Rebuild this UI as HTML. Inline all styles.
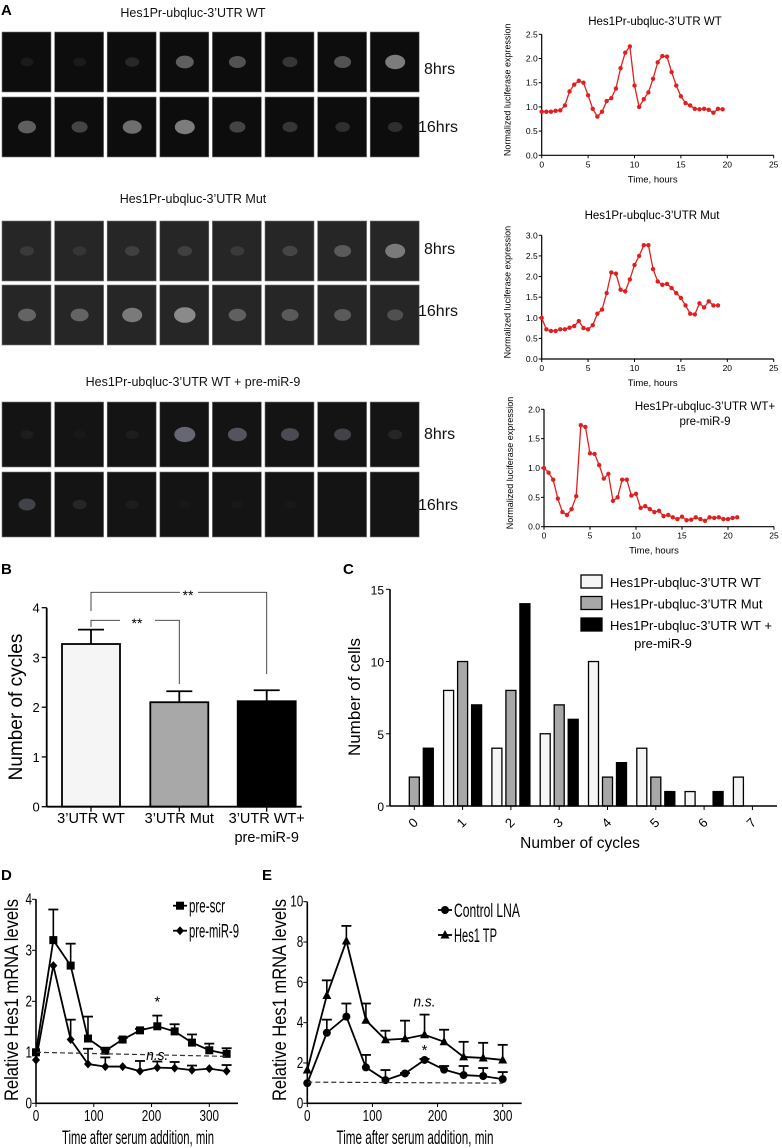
<!DOCTYPE html>
<html><head><meta charset="utf-8"><style>
html,body{margin:0;padding:0;background:#fff;}
svg{display:block;font-family:"Liberation Sans",sans-serif;}
</style></head><body>
<svg id="fig" width="782" height="1148" viewBox="0 0 782 1148" xmlns="http://www.w3.org/2000/svg">
<g id="imgs"></g>
<g id="lum"></g>
<g id="pb"></g>
<g id="pc"></g>
<g id="pd"></g>
<g id="pe"></g>
</svg>
<script>
// ---- data ----
const lumTimesWT = [0,0.5,1,1.5,2,2.5,3,3.5,4,4.5,5,5.5,6,6.5,7,7.5,8,8.5,9,9.5,10,10.5,11,11.5,12,12.5,13,13.5,14,14.5,15,15.5,16,16.5,17,17.5,18,18.5,19,19.5];
const lumWT = [0.9,0.9,0.9,0.92,0.93,1.03,1.32,1.46,1.54,1.5,1.24,0.96,0.8,0.9,1.12,1.18,1.38,1.8,2.12,2.25,1.44,1.0,1.16,1.3,1.58,1.92,2.05,2.04,1.72,1.44,1.22,1.08,1.03,0.96,0.95,0.96,0.94,0.88,0.96,0.95];
const lumTimesMut = [0,0.5,1,1.5,2,2.5,3,3.5,4,4.5,5,5.5,6,6.5,7,7.5,8,8.5,9,9.5,10,10.5,11,11.5,12,12.5,13,13.5,14,14.5,15,15.5,16,16.5,17,17.5,18,18.5,19];
const lumMut = [1.0,0.72,0.68,0.68,0.72,0.72,0.76,0.8,0.92,0.75,0.72,0.82,1.1,1.2,1.6,2.1,2.07,1.68,1.64,1.93,2.28,2.5,2.76,2.76,2.18,1.88,1.8,1.82,1.72,1.6,1.48,1.3,1.1,1.08,1.35,1.25,1.4,1.3,1.3];
const lumTimesMiR = [0,0.5,1,1.5,2,2.5,3,3.5,4,4.5,5,5.5,6,6.5,7,7.5,8,8.5,9,9.5,10,10.5,11,11.5,12,12.5,13,13.5,14,14.5,15,15.5,16,16.5,17,17.5,18,18.5,19,19.5,20,20.5,21];
const lumMiR = [1.0,0.92,0.8,0.48,0.25,0.2,0.3,0.52,1.73,1.7,1.25,1.24,1.05,0.82,0.9,0.44,0.5,0.8,0.8,0.53,0.56,0.32,0.35,0.3,0.25,0.27,0.18,0.2,0.16,0.13,0.17,0.11,0.12,0.16,0.13,0.1,0.16,0.15,0.16,0.13,0.13,0.15,0.16];

const bCategories = ["3’UTR WT","3’UTR Mut","3’UTR WT+"];
const bMeans = [3.27,2.1,2.12];
const bErr = [0.29,0.22,0.22];
const bTicks = [0,1,2,3,4];

const cCategories = ["0","1","2","3","4","5","6","7"];
const cWT = [0,8,4,5,10,4,1,2];
const cMut = [2,10,8,7,2,2,0,0];
const cMiR = [4,7,14,6,3,1,1,0];
const cTicks = [0,5,10,15];

const dTimes = [0,30,60,90,120,150,180,210,240,270,300,330];
const dScr = [1.0,3.2,2.7,1.27,1.03,1.25,1.43,1.51,1.41,1.19,1.04,0.97];
const dScrErr = [0,0.6,0.43,0.43,0.03,0.03,0.03,0.21,0.14,0.16,0.13,0.11];
const dMiR = [0.85,2.7,1.25,0.77,0.72,0.72,0.63,0.7,0.69,0.65,0.68,0.63];
const dMiRErr = [0,0,0.39,0.3,0.18,0,0.2,0.12,0.12,0.09,0,0.12];
const dTicksX = [0,100,200,300];
const dTicksY = [0,1,2,3,4];

const eTimes = [0,30,60,90,120,150,180,210,240,270,300];
const eCtrl = [1.0,3.5,4.3,1.78,1.15,1.48,2.15,1.67,1.4,1.35,1.2];
const eCtrlErr = [0,0.65,0.65,0.62,0.5,0.02,0.05,0.18,0.45,0.4,0.35];
const eTP = [1.65,5.35,8.05,4.12,3.15,3.2,3.4,3.05,2.3,2.25,2.15];
const eTPErr = [0,0.75,0.75,0.83,0.45,0.9,1.0,0.6,0.75,0.75,0.75];
const eTicksX = [0,100,200,300];
const eTicksY = [0,2,4,6,8,10];

const NS="http://www.w3.org/2000/svg";
function mk(parent,tag,attrs,text){const e=document.createElementNS(NS,tag);for(const k in attrs)e.setAttribute(k,attrs[k]);if(text!==undefined)e.textContent=text;parent.appendChild(e);return e;}
function lin(d0,d1,r0,r1){return v=>r0+(v-d0)*(r1-r0)/(d1-d0);}

// ---- microscopy tiles ----
const imgs=document.getElementById('imgs');
const sections=[
 {title:"Hes1Pr-ubqluc-3’UTR WT",ty:17,rows:[[32,92],[97,157]],lab:[74,132],bg:"#0d0d0d",glow:"#bbb"},
 {title:"Hes1Pr-ubqluc-3’UTR Mut",ty:203,rows:[[221,281],[285,345]],lab:[254,316],bg:"#262626",glow:"#aaa"},
 {title:"Hes1Pr-ubqluc-3’UTR WT + pre-miR-9",ty:386,rows:[[402,467],[472,537]],lab:[439,510],bg:"#141414",glow:"#889"}];
const glowWT=[[0.1,0.1,0.2,0.6,0.5,0.3,0.5,0.8],[0.6,0.4,0.7,0.8,0.4,0.3,0.25,0.25]];
const glowMut=[[0.2,0.15,0.25,0.25,0.2,0.3,0.5,0.8],[0.6,0.6,0.8,0.95,0.55,0.5,0.5,0.4]];
const glowMiR=[[0.1,0.05,0.1,0.9,0.7,0.6,0.5,0.2],[0.5,0.2,0.1,0.05,0.05,0.05,0,0]];
const glows=[glowWT,glowMut,glowMiR];
sections.forEach((s,si)=>{
  const t=mk(imgs,'text',{x:193,y:s.ty,'text-anchor':'middle','font-size':12.5,fill:'#111'},s.title);
  
  
  s.rows.forEach((r,ri)=>{
    for(let i=0;i<8;i++){
      const x=2+i*52.6;
      const tile=mk(imgs,'rect',{x:x,y:r[0],width:49,height:r[1]-r[0],fill:s.bg,stroke:'#777','stroke-width':0.6});
      
      
      const g=glows[si][ri][i];
      if(g>0){mk(imgs,'ellipse',{cx:x+25,cy:(r[0]+r[1])/2,rx:6+g*5,ry:4+g*4,fill:s.glow,opacity:g*0.8});}
    }
    const lt=mk(imgs,'text',{x:ri?418:424,y:s.lab[ri],'font-size':16,fill:'#111'},ri?"16hrs":"8hrs");
    
    
  });
});
const la=mk(imgs,'text',{x:1,y:15,'font-size':15,'font-weight':'bold'},"A");



// ---- luciferase traces ----
const lum=document.getElementById('lum');
function lumChart(cfg){
  const g=mk(lum,'g',{});
  
  
  const X=lin(0,25,cfg.x0,cfg.x1),Y=lin(0,cfg.ymax,cfg.y0,cfg.yt);
  mk(g,'line',{x1:cfg.x0,y1:cfg.yt,x2:cfg.x0,y2:cfg.y0,stroke:'#000','stroke-width':1.2});
  mk(g,'line',{x1:cfg.x0,y1:cfg.y0,x2:cfg.x1,y2:cfg.y0,stroke:'#000','stroke-width':1.2});
  cfg.yticks.forEach(v=>{mk(g,'line',{x1:cfg.x0-3,x2:cfg.x0,y1:Y(v),y2:Y(v),stroke:'#000'});
    mk(g,'text',{x:cfg.x0-4,y:Y(v)+3,'text-anchor':'end','font-size':8.5},v.toFixed(1));});
  [0,5,10,15,20,25].forEach(v=>{mk(g,'line',{x1:X(v),x2:X(v),y1:cfg.y0,y2:cfg.y0+3,stroke:'#000'});
    mk(g,'text',{x:X(v),y:cfg.y0+12,'text-anchor':'middle','font-size':8.5},v);});
  const xl=mk(g,'text',{x:(cfg.x0+cfg.x1)/2-5,y:cfg.y0+27,'text-anchor':'middle','font-size':9.5},"Time, hours");
  
  
  const yl=mk(g,'text',{x:0,y:0,'text-anchor':'middle','font-size':9,transform:`translate(${cfg.x0-31},${(cfg.y0+cfg.yt)/2-5}) rotate(-90)`},"Normalized luciferase expression");
  
  
  cfg.title.forEach((t,i)=>{const tt=mk(g,'text',{x:cfg.tx,y:cfg.ty+i*15,'text-anchor':'middle','font-size':11.5},t);
    
    });
  const pts=cfg.t.map((t,i)=>X(t)+','+Y(cfg.v[i])).join(' ');
  const pl=mk(g,'polyline',{points:pts,fill:'none',stroke:'#e02020','stroke-width':1.3});
  
  
  cfg.t.forEach((t,i)=>{const c=mk(g,'circle',{cx:X(t),cy:Y(cfg.v[i]),r:2.2,fill:'#e02020'});
    
    });
}
lumChart({x0:541.7,x1:773.7,y0:155.3,yt:34.3,ymax:2.5,yticks:[0,0.5,1,1.5,2,2.5],t:lumTimesWT,v:lumWT,title:["Hes1Pr-ubqluc-3’UTR WT"],tx:655,ty:25});
lumChart({x0:541.7,x1:773.7,y0:359,yt:235.3,ymax:3,yticks:[0,0.5,1,1.5,2,2.5,3],t:lumTimesMut,v:lumMut,title:["Hes1Pr-ubqluc-3’UTR Mut"],tx:652,ty:219});
lumChart({x0:544,x1:774,y0:526.7,yt:409.3,ymax:2,yticks:[0,0.5,1,1.5,2],t:lumTimesMiR,v:lumMiR,title:["Hes1Pr-ubqluc-3’UTR WT+","pre-miR-9"],tx:705,ty:410});

// ---- panel B ----
const pb=document.getElementById('pb');
(function(){
  const x0=46.7,x1=301.7,Y=lin(0,4,806.7,607.7);
  const centers=[91,179.3,266.7],fills=['#f5f5f5','#a8a8a8','#000'];
  bMeans.forEach((m,i)=>{
    const yt=Y(m+bErr[i]);
    mk(pb,'line',{x1:centers[i],x2:centers[i],y1:Y(m),y2:yt,stroke:'#000','stroke-width':1.8});
    mk(pb,'line',{x1:centers[i]-13,x2:centers[i]+13,y1:yt,y2:yt,stroke:'#000','stroke-width':1.8});
    const r=mk(pb,'rect',{x:centers[i]-29,y:Y(m),width:58,height:Y(0)-Y(m),fill:fills[i],stroke:'#000','stroke-width':1.8});
    
    
    mk(pb,'line',{x1:centers[i],x2:centers[i],y1:Y(0),y2:Y(0)+5,stroke:'#000','stroke-width':1.3});
    const l=mk(pb,'text',{x:centers[i],y:823,'text-anchor':'middle','font-size':14.5},bCategories[i]);
    
    
  });
  mk(pb,'text',{x:266.7,y:842,'text-anchor':'middle','font-size':14.5},"pre-miR-9");
  mk(pb,'line',{x1:x0,x2:x0,y1:Y(4),y2:Y(0),stroke:'#000','stroke-width':1.8});
  mk(pb,'line',{x1:x0,x2:x1,y1:Y(0),y2:Y(0),stroke:'#000','stroke-width':1.8});
  bTicks.forEach(v=>{mk(pb,'line',{x1:x0-5,x2:x0,y1:Y(v),y2:Y(v),stroke:'#000','stroke-width':1.3});
    mk(pb,'text',{x:x0-7,y:Y(v)+5,'text-anchor':'end','font-size':13},v);});
  const yt=mk(pb,'text',{x:0,y:0,'text-anchor':'middle','font-size':19,transform:'translate(22,707) rotate(-90)'},"Number of cycles");
  
  
  mk(pb,'polyline',{points:"91,611 91,592.3 180,592.3",fill:'none',stroke:'#333','stroke-width':0.9});
  mk(pb,'polyline',{points:"198,592.3 266.7,592.3 266.7,674",fill:'none',stroke:'#333','stroke-width':0.9});
  mk(pb,'polyline',{points:"91,627 91,620.3 120,620.3",fill:'none',stroke:'#333','stroke-width':0.9});
  mk(pb,'polyline',{points:"155,620.3 179.3,620.3 179.3,684",fill:'none',stroke:'#333','stroke-width':0.9});
  mk(pb,'text',{x:188,y:600,'text-anchor':'middle','font-size':14},"**");
  mk(pb,'text',{x:137,y:628,'text-anchor':'middle','font-size':14},"**");
  mk(pb,'text',{x:1,y:574,'font-size':15,'font-weight':'bold'},"B");
})();

// ---- panel C ----
const pc=document.getElementById('pc');
(function(){
  const x0=390,x1=777,X=i=>414.3+i*48.3,Y=lin(0,15,806,589.3);
  const series=[[cWT,'#f5f5f5',-14],[cMut,'#a8a8a8',0],[cMiR,'#000',14]];
  series.forEach((s,si)=>{s[0].forEach((v,i)=>{if(v<=0)return;
    const r=mk(pc,'rect',{x:X(i)+s[2]-5,y:Y(v),width:10,height:Y(0)-Y(v),fill:s[1],stroke:'#000','stroke-width':1.3});
    
    });});
  mk(pc,'line',{x1:x0,x2:x0,y1:Y(15),y2:Y(0),stroke:'#000','stroke-width':1.6});
  mk(pc,'line',{x1:x0,x2:x1,y1:Y(0),y2:Y(0),stroke:'#000','stroke-width':1.6});
  cTicks.forEach(v=>{mk(pc,'line',{x1:x0-4,x2:x0,y1:Y(v),y2:Y(v),stroke:'#000'});
    mk(pc,'text',{x:x0-6,y:Y(v)+5,'text-anchor':'end','font-size':12},v);});
  cCategories.forEach((c,i)=>{mk(pc,'line',{x1:X(i),x2:X(i),y1:Y(0),y2:Y(0)+4,stroke:'#000'});
    const t=mk(pc,'text',{x:0,y:0,'text-anchor':'middle','font-size':13,transform:`translate(${X(i)+2},${826}) rotate(-45)`},c);
    
    });
  const xt=mk(pc,'text',{x:580,y:848,'text-anchor':'middle','font-size':15.5},"Number of cycles");
  
  
  const yt=mk(pc,'text',{x:0,y:0,'text-anchor':'middle','font-size':17,transform:'translate(360,697) rotate(-90)'},"Number of cells");
  
  
  const leg=[["Hes1Pr-ubqluc-3’UTR WT",'#f5f5f5'],["Hes1Pr-ubqluc-3’UTR Mut",'#a8a8a8'],["Hes1Pr-ubqluc-3’UTR WT +",'#000']];
  leg.forEach((l,i)=>{const y=575+i*21.5;
    const r=mk(pc,'rect',{x:581,y:y,width:21,height:13,fill:l[1],stroke:'#000','stroke-width':1.3});
    
    
    const t=mk(pc,'text',{x:610,y:y+12,'font-size':13},l[0]);
    
    });
  mk(pc,'text',{x:663,y:648,'text-anchor':'middle','font-size':13},"pre-miR-9");
  mk(pc,'text',{x:343,y:574,'font-size':15,'font-weight':'bold'},"C");
})();

// ---- panels D & E ----
function marker(g,type,x,y){
  let m;
  if(type==='sq')m=mk(g,'rect',{x:x-4,y:y-4,width:8,height:8,fill:'#000'});
  else if(type==='dia')m=mk(g,'polygon',{points:`${x},${y-4.5} ${x+4},${y} ${x},${y+4.5} ${x-4},${y}`,fill:'#000'});
  else if(type==='circ')m=mk(g,'circle',{cx:x,cy:y,r:4,fill:'#000'});
  else m=mk(g,'polygon',{points:`${x},${y-5} ${x+4.5},${y+3.5} ${x-4.5},${y+3.5}`,fill:'#000'});
  
  
}
function narrow(el,len){el.setAttribute('textLength',len);el.setAttribute('lengthAdjust','spacingAndGlyphs');return el;}
function lineChart(g,cfg){
  const X=lin(0,300,cfg.x0,cfg.x300),Y=lin(0,cfg.ymax,1103.3,cfg.yt);
  cfg.series.forEach(s=>{
    s.v.forEach((v,i)=>{if(s.e[i]>0){const yt=Y(v+s.e[i]);
      mk(g,'line',{x1:X(cfg.t[i]),x2:X(cfg.t[i]),y1:Y(v),y2:yt,stroke:'#000','stroke-width':1.6});
      mk(g,'line',{x1:X(cfg.t[i])-5,x2:X(cfg.t[i])+5,y1:yt,y2:yt,stroke:'#000','stroke-width':1.8});}});
    const pl=mk(g,'polyline',{points:cfg.t.map((t,i)=>X(t)+','+Y(s.v[i])).join(' '),fill:'none',stroke:'#000','stroke-width':1.8});
    
    
    cfg.t.forEach((t,i)=>marker(g,s.m,X(t),Y(s.v[i])));
  });
  mk(g,'line',{x1:X(0),x2:X(cfg.t[cfg.t.length-1]),y1:Y(cfg.dash[0]),y2:Y(cfg.dash[1]),stroke:'#333','stroke-width':1.2,'stroke-dasharray':'5,3'});
  mk(g,'line',{x1:cfg.x0,x2:cfg.x0,y1:cfg.yt,y2:1103.3,stroke:'#000','stroke-width':1.6});
  mk(g,'line',{x1:cfg.x0,x2:cfg.xend,y1:1103.3,y2:1103.3,stroke:'#000','stroke-width':1.6});
  cfg.ty.forEach(v=>{mk(g,'line',{x1:cfg.x0-4,x2:cfg.x0,y1:Y(v),y2:Y(v),stroke:'#000'});
    const t=mk(g,'text',{x:cfg.x0-4,y:Y(v)+5,'text-anchor':'end','font-size':15.5},v);
    narrow(t,String(v).length*6.5);});
  cfg.tx.forEach(v=>{mk(g,'line',{x1:X(v),x2:X(v),y1:1103.3,y2:1107,stroke:'#000'});
    const t=mk(g,'text',{x:X(v),y:1121,'text-anchor':'middle','font-size':15.5},v);
    narrow(t,String(v).length*6.5);});
  const xt=mk(g,'text',{x:cfg.xlx,y:1144,'text-anchor':'middle','font-size':19},"Time after serum addition, min");
  narrow(xt,cfg.xlen);
  
  
  const yt=mk(g,'text',{x:0,y:0,'text-anchor':'middle','font-size':19,transform:`translate(${cfg.ylx},1000) rotate(-90)`},"Relative Hes1 mRNA levels");
  narrow(yt,202);
  
  
  cfg.annot.forEach(a=>{const t=mk(g,'text',{x:X(a[0]),y:Y(a[1]),'text-anchor':'middle','font-size':15,'font-style':a[2]==='*'?'normal':'italic'},a[2]);
    if(a[2]!=='*')narrow(t,22);});
  cfg.legend.forEach((l,i)=>{const y=cfg.ly+i*25;
    mk(g,'line',{x1:cfg.lx-7,x2:cfg.lx+7,y1:y,y2:y,stroke:'#000','stroke-width':1.8});
    marker(g,l[0],cfg.lx,y);
    const t=mk(g,'text',{x:cfg.lx+9,y:y+7,'font-size':19},l[1]);
    narrow(t,l[2]);
    
    });
  mk(g,'text',{x:cfg.pl[0],y:880,'font-size':15,'font-weight':'bold'},cfg.pl[1]);
}
lineChart(document.getElementById('pd'),{x0:36,x300:209.3,xend:238,yt:899.3,ymax:4,t:dTimes,
  series:[{v:dScr,e:dScrErr,m:'sq'},{v:dMiR,e:dMiRErr,m:'dia'}],dash:[1.0,0.92],ty:dTicksY,tx:dTicksX,
  xlx:138,xlen:152,ylx:18,annot:[[210,1.9,'*'],[210,0.85,'n.s.']],legend:[['sq','pre-scr',36],['dia','pre-miR-9',50]],lx:180,ly:905.7,pl:[1,'D']});
lineChart(document.getElementById('pe'),{x0:307.3,x300:502.7,xend:521.7,yt:901.7,ymax:10,t:eTimes,
  series:[{v:eCtrl,e:eCtrlErr,m:'circ'},{v:eTP,e:eTPErr,m:'tri'}],dash:[1.05,1.0],ty:eTicksY,tx:eTicksX,
  xlx:415,xlen:157,ylx:286,annot:[[180,4.8,'n.s.'],[180,2.4,'*']],legend:[['circ','Control LNA',66],['tri','Hes1 TP',43]],lx:445,ly:910,pl:[262,'E']});
</script>
</body></html>
